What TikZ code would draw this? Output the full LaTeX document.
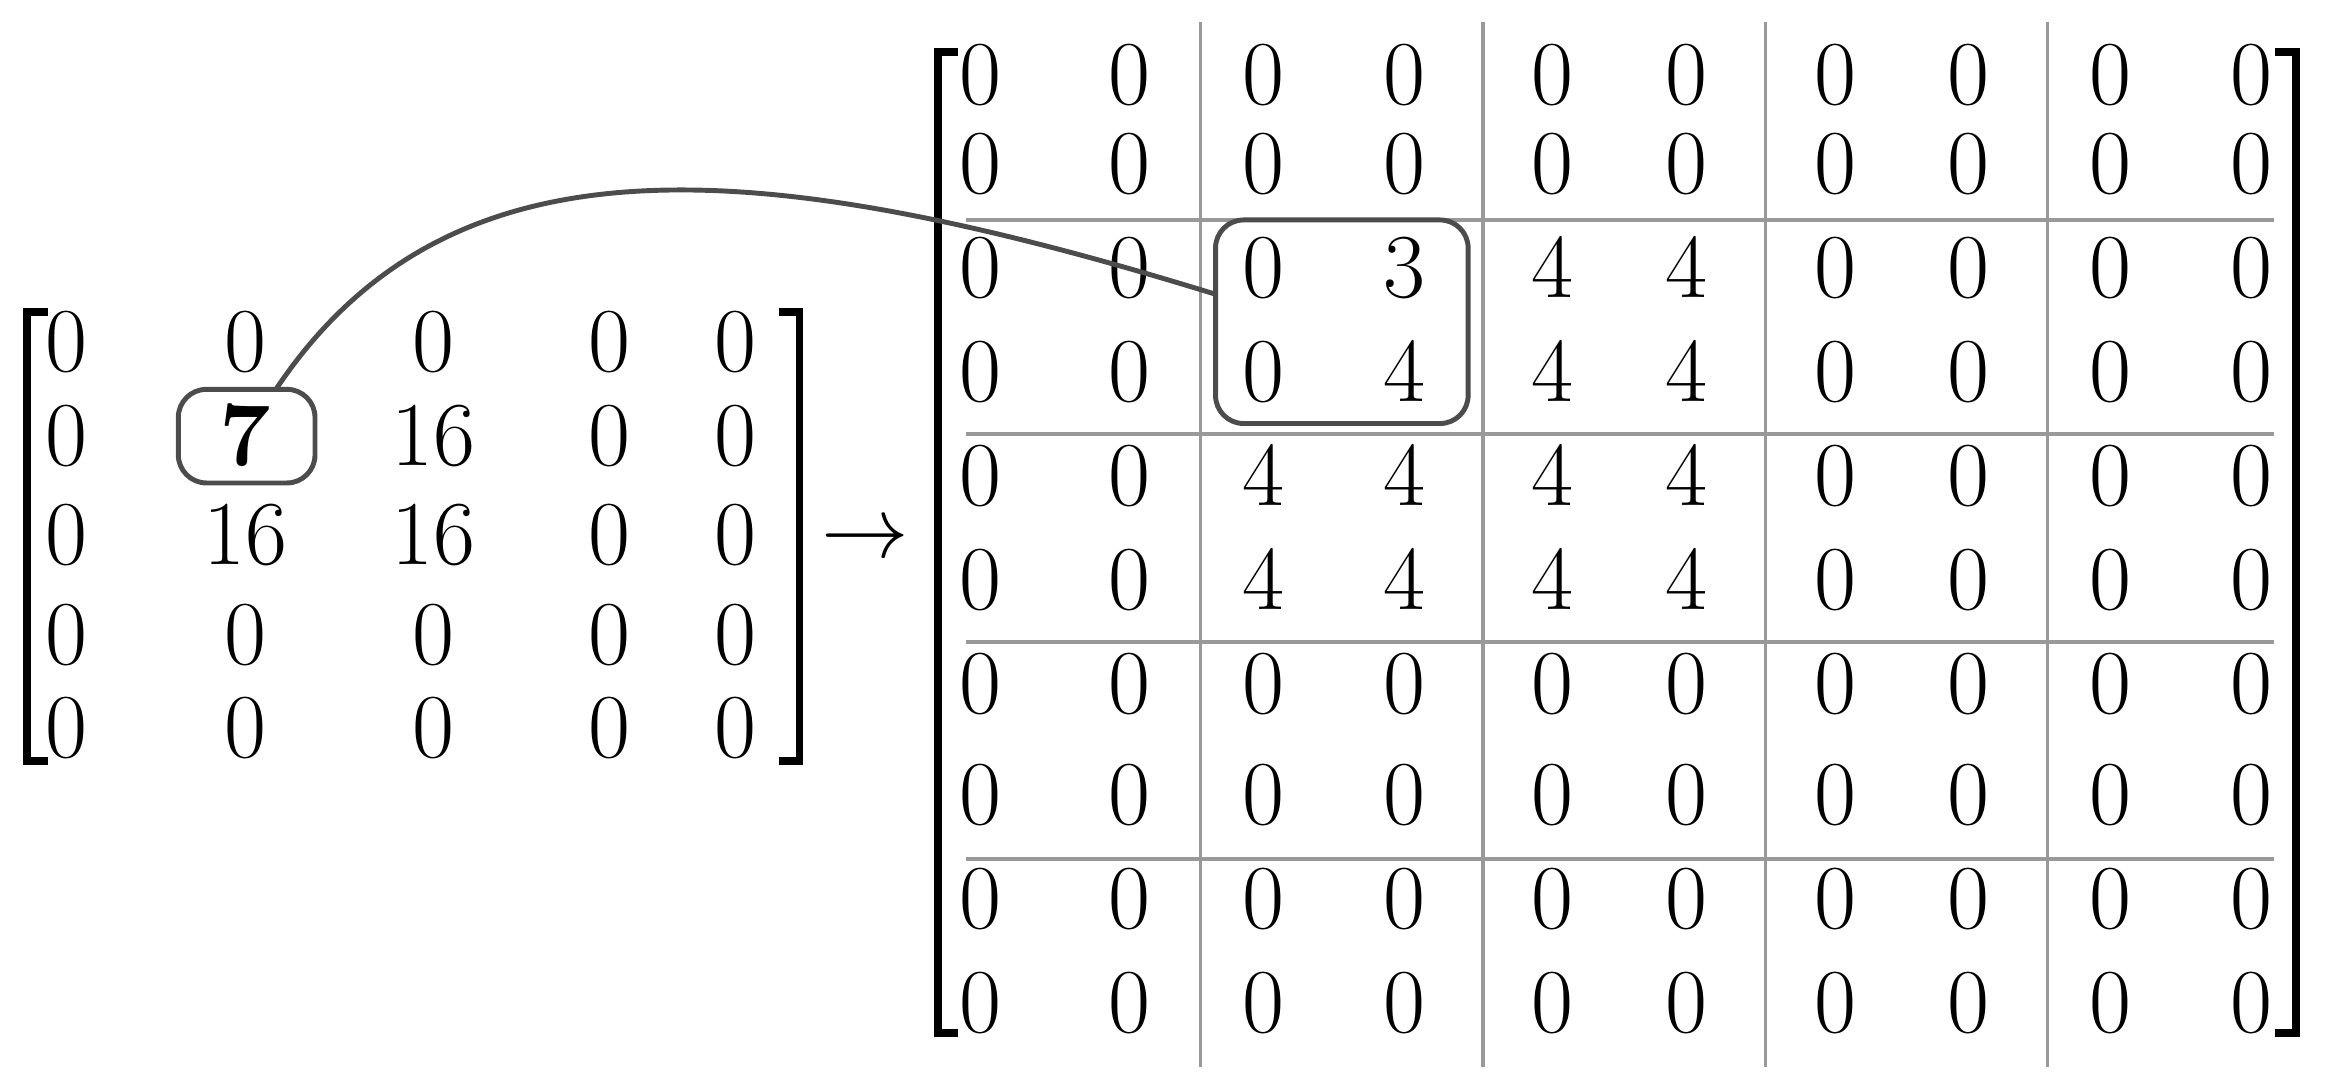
\documentclass[tikz,border=0pt]{standalone}
\begin{document}
\begin{tikzpicture}[x=0.01486cm,y=-0.01486cm,
  num/.style={font=\fontsize{26}{30}\selectfont,inner sep=0pt,anchor=base},
  brk/.style={line width=2.2pt,black},
  grid/.style={gray!80,line width=1pt},
  hl/.style={draw=black!70,line width=1.4pt,rounded corners=8pt}]
\useasboundingbox (0,0) rectangle (1568,728);
% left matrix
\def\lrows{{"0","0","0","0","0"},{"0","\textbf{7}","16","0","0"},{"0","16","16","0","0"},{"0","0","0","0","0"},{"0","0","0","0","0"}}
\foreach \r/\y in {0/250,1/313,2/380,3/447,4/510}{
  \foreach \c/\x in {0/45,1/165,2/292,3/410,4/495}{
    \pgfmathsetmacro{\v}{{\lrows}[\r][\c]}
    \node[num] (L\r\c) at (\x,\y) {\v};
  }
}
\draw[brk] (32,210) -- (18,210) -- (18,512) -- (32,512);
\draw[brk] (524,210) -- (538,210) -- (538,512) -- (524,512);
\node[hl,minimum width=92*0.01486cm,minimum height=63*0.01486cm] (b7) at (166,293.5) {};
\node[num] (arr) at (582,375) {$\rightarrow$};
% right matrix grid
\foreach \x in {808,998,1188,1378} \draw[grid] (\x,15) -- (\x,718);
\foreach \y in {148,292,432,578} \draw[grid] (650,\y) -- (1530,\y);
\foreach \r/\y in {0/70,1/130,2/200,3/270,4/340,5/410,6/480,7/555,8/625,9/695}{
  \foreach \c/\x in {0/660,1/760,2/850,3/945,4/1045,5/1135,6/1235,7/1325,8/1420,9/1515}{
    \pgfmathsetmacro{\v}{ifthenelse(\r==2&&\c==3,3,ifthenelse((\r>=2&&\r<=5&&\c>=2&&\c<=5)&&!((\r==2)&&(\c==2)),4,0))}
    \pgfmathtruncatemacro{\w}{\v}
    \ifnum\r=3 \ifnum\c=2 \def\w{0}\fi\fi
    \node[num] (R\r\c) at (\x,\y) {\w};
  }
}
\draw[brk] (645,35) -- (631,35) -- (631,695) -- (645,695);
\draw[brk] (1531,35) -- (1545,35) -- (1545,695) -- (1531,695);
\node[hl,minimum width=170*0.01486cm,minimum height=137*0.01486cm] (b2) at (903,216.5) {};
\coordinate (s) at (185,263);
\coordinate (e) at (818,198);
\draw[black!70,line width=1.4pt] (s) .. controls (300,90) and (500,100) .. (e);
\end{tikzpicture}
\end{document}
